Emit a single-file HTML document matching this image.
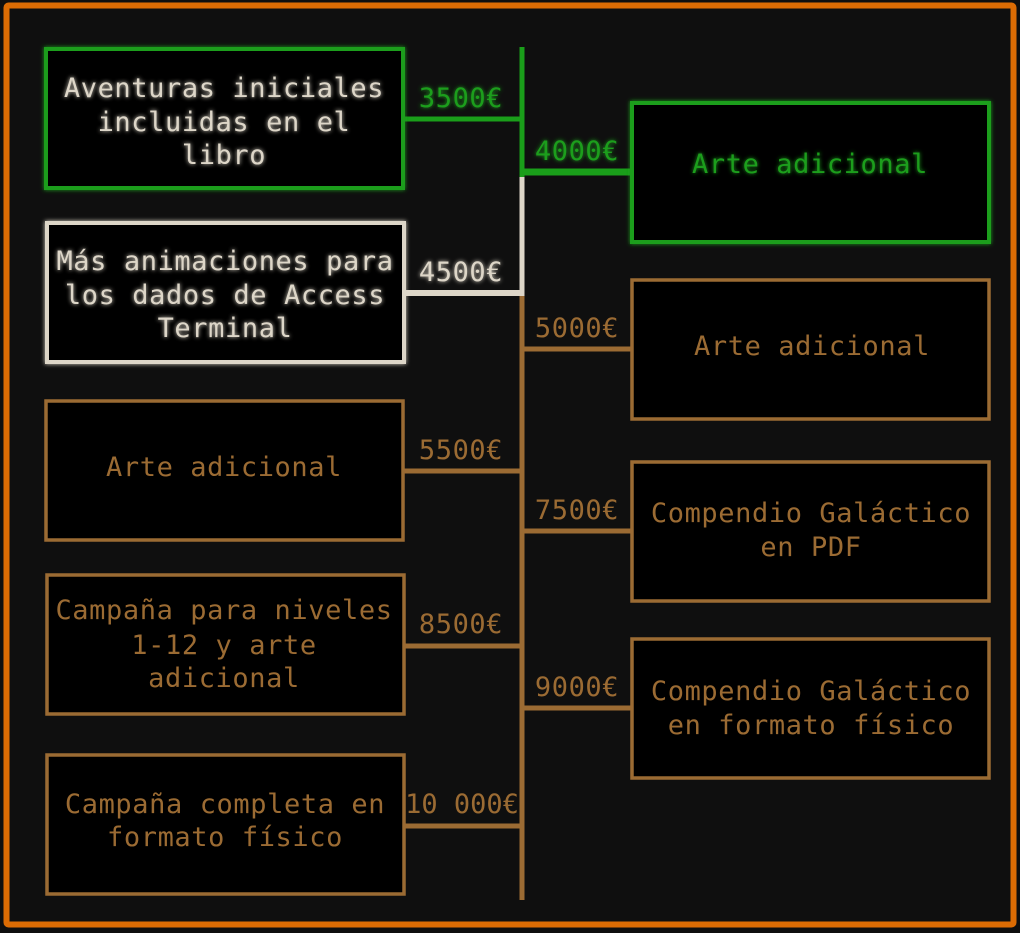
<!DOCTYPE html>
<html><head><meta charset="utf-8"><style>
html,body{margin:0;padding:0;background:#0f0f0f;}
svg{display:block;}
text{font-family:"DejaVu Sans Mono","Liberation Mono",monospace;font-size:27px;letter-spacing:0.6px;text-anchor:middle;}
.g{fill:#1f9e1f;}
.c{fill:#ddd6c8;}
.b{fill:#9b6b33;}
</style></head><body>
<svg width="1020" height="933" viewBox="0 0 1020 933" xmlns="http://www.w3.org/2000/svg">
<defs>
<filter id="glow" x="-20%" y="-20%" width="140%" height="140%"><feGaussianBlur stdDeviation="2" result="b"/><feMerge><feMergeNode in="b"/><feMergeNode in="SourceGraphic"/></feMerge></filter>
</defs>
<rect x="0" y="0" width="1020" height="933" fill="#0f0f0f"/>
<rect x="6.5" y="5.5" width="1007" height="919" fill="#0f0f0f" stroke="#dc6c04" stroke-width="6" rx="2"/>

<line x1="522" y1="47" x2="522" y2="177" stroke="#1a9e1a" stroke-width="5"/>
<line x1="522" y1="177" x2="522" y2="296" stroke="#ddd6c8" stroke-width="5"/>
<line x1="522" y1="296" x2="522" y2="900" stroke="#9b6b33" stroke-width="5"/>

<line x1="403" y1="119" x2="522" y2="119" stroke="#1a9e1a" stroke-width="5"/>
<line x1="522" y1="172" x2="632" y2="172" stroke="#1a9e1a" stroke-width="7"/>
<line x1="404" y1="293" x2="524" y2="293" stroke="#ddd6c8" stroke-width="6"/>
<line x1="522" y1="349" x2="632" y2="349" stroke="#9b6b33" stroke-width="5"/>
<line x1="403" y1="471" x2="522" y2="471" stroke="#9b6b33" stroke-width="5"/>
<line x1="522" y1="531" x2="632" y2="531" stroke="#9b6b33" stroke-width="5"/>
<line x1="403" y1="646" x2="522" y2="646" stroke="#9b6b33" stroke-width="5"/>
<line x1="522" y1="708" x2="632" y2="708" stroke="#9b6b33" stroke-width="5"/>
<line x1="403" y1="826" x2="522" y2="826" stroke="#9b6b33" stroke-width="5"/>

<rect x="46" y="49" width="357" height="139" fill="#000" stroke="#1a9e1a" stroke-width="4" filter="url(#glow)"/>
<rect x="47" y="223" width="357" height="139" fill="#000" stroke="#ddd6c8" stroke-width="4" filter="url(#glow)"/>
<rect x="46" y="401" width="357" height="139" fill="#000" stroke="#9b6b33" stroke-width="3.5"/>
<rect x="47" y="575" width="357" height="139" fill="#000" stroke="#9b6b33" stroke-width="3.5"/>
<rect x="47" y="755" width="357" height="139" fill="#000" stroke="#9b6b33" stroke-width="3.5"/>

<rect x="632" y="103" width="357" height="139" fill="#000" stroke="#1a9e1a" stroke-width="4" filter="url(#glow)"/>
<rect x="632" y="280" width="357" height="139" fill="#000" stroke="#9b6b33" stroke-width="3.5"/>
<rect x="632" y="462" width="357" height="139" fill="#000" stroke="#9b6b33" stroke-width="3.5"/>
<rect x="632" y="639" width="357" height="139" fill="#000" stroke="#9b6b33" stroke-width="3.5"/>

<g class="c" filter="url(#glow)">
<text x="224" y="97">Aventuras iniciales</text>
<text x="224" y="131">incluidas en el</text>
<text x="224" y="164">libro</text>
<text x="225" y="270">Más animaciones para</text>
<text x="225" y="304">los dados de Access</text>
<text x="225" y="337">Terminal</text>
</g>
<g class="g" filter="url(#glow)">
<text x="810" y="173">Arte adicional</text>
<text x="461" y="107">3500€</text>
<text x="577" y="160">4000€</text>
</g>
<text class="c" x="461" y="281" filter="url(#glow)">4500€</text>
<g class="b">
<text x="224" y="476">Arte adicional</text>
<text x="224" y="619">Campaña para niveles</text>
<text x="224" y="654">1-12 y arte</text>
<text x="224" y="687">adicional</text>
<text x="225" y="813">Campaña completa en</text>
<text x="225" y="846">formato físico</text>
<text x="812" y="355">Arte adicional</text>
<text x="811" y="522">Compendio Galáctico</text>
<text x="811" y="556">en PDF</text>
<text x="811" y="700">Compendio Galáctico</text>
<text x="811" y="734">en formato físico</text>
<text x="577" y="337">5000€</text>
<text x="461" y="459">5500€</text>
<text x="577" y="519">7500€</text>
<text x="461" y="633">8500€</text>
<text x="577" y="696">9000€</text>
<text x="462" y="813" style="letter-spacing:0">10&#8201;000€</text>
</g>
</svg>
</body></html>
